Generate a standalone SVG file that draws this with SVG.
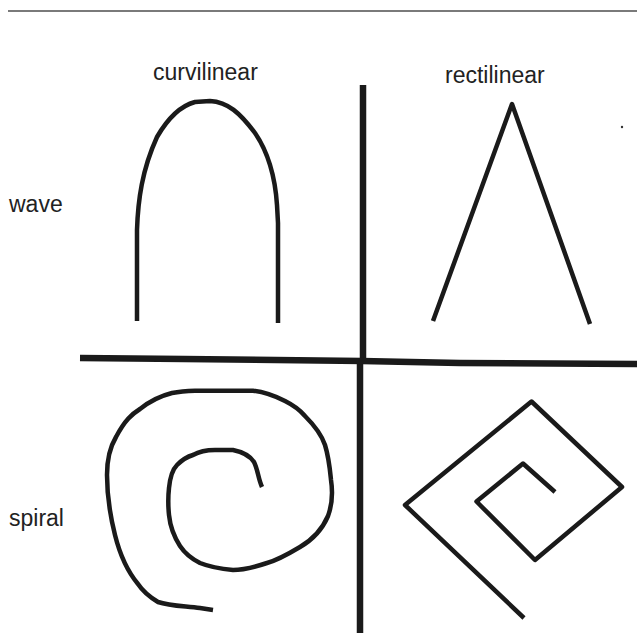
<svg xmlns="http://www.w3.org/2000/svg" width="637" height="635" viewBox="0 0 637 635">
  <style>
    .ink { fill: none; stroke: #1a1a1a; stroke-width: 4.5; stroke-linejoin: round; stroke-linecap: butt; }
    .axis { fill: none; stroke: #1a1a1a; stroke-width: 6.5; stroke-linecap: butt; }
    .lbl { font-family: "Liberation Sans", Arial, sans-serif; font-size: 23px; fill: #222; }
  </style>
  <rect width="637" height="635" fill="#ffffff"/>
  <line x1="8" y1="11" x2="637" y2="11" stroke="#7a7a7a" stroke-width="2"/>

  <g id="labels">
    <text class="lbl" x="153" y="80">curvilinear</text>
    <text class="lbl" x="445" y="83">rectilinear</text>
    <text class="lbl" x="9" y="212">wave</text>
    <text class="lbl" x="9" y="526">spiral</text>
  </g>

  <g id="axes">
    <line class="axis" x1="363" y1="85" x2="363" y2="360"/>
    <line class="axis" x1="360" y1="360" x2="360" y2="633"/>
    <polyline class="axis" points="80,358 184,359 362,361 460,363 637,364"/>
  </g>

  <g id="curvilinear-wave">
    <path class="ink" d="M137,321 L137,230 C138,200 142,170 157,137 C168,118 180,106 195,102 L210,101 C228,102 240,113 255,133 C268,152 275,175 277,205 L278,223 L278,323"/>
  </g>

  <g id="rectilinear-wave">
    <polyline class="ink" points="433,321 512,104 590,324"/>
    <circle cx="622" cy="127" r="1.2" fill="#333"/>
  </g>

  <g id="curvilinear-spiral">
    <path class="ink" d="M213,610 L200,608 C185,606 170,606 158,602 C148,596 142,590 138,584 C128,572 120,555 115,535 C110,515 107,495 107,475 C107,458 110,447 116,437 C125,420 132,414 140,409 C150,401 160,396 172,393 C183,391 190,391 198,390.7 L253,390.7 C265,392 275,396 285,401 C295,406 300,410 305,416 C315,426 322,436 325,445 C329,458 330,470 331,480 C333,493 332,505 328,516 C322,530 312,540 300,547 C290,553 278,560 267,563 C255,567 245,570 233,570 C222,569 210,567 200,563 C190,558 184,552 180,546 C173,535 170,525 169,515 C168,505 168,497 169,488 C170,478 172,470 177,465 C182,460 186,457 193,455 C200,451 206,450 215,450 L233,450 C243,452 250,456 254,462 C258,470 258,478 262,487"/>
  </g>

  <g id="rectilinear-spiral">
    <polyline class="ink" points="524,618 405,505 531.5,401.5 622,487 535,560 476.5,501.5 523,463.5 555,492"/>
  </g>
</svg>
